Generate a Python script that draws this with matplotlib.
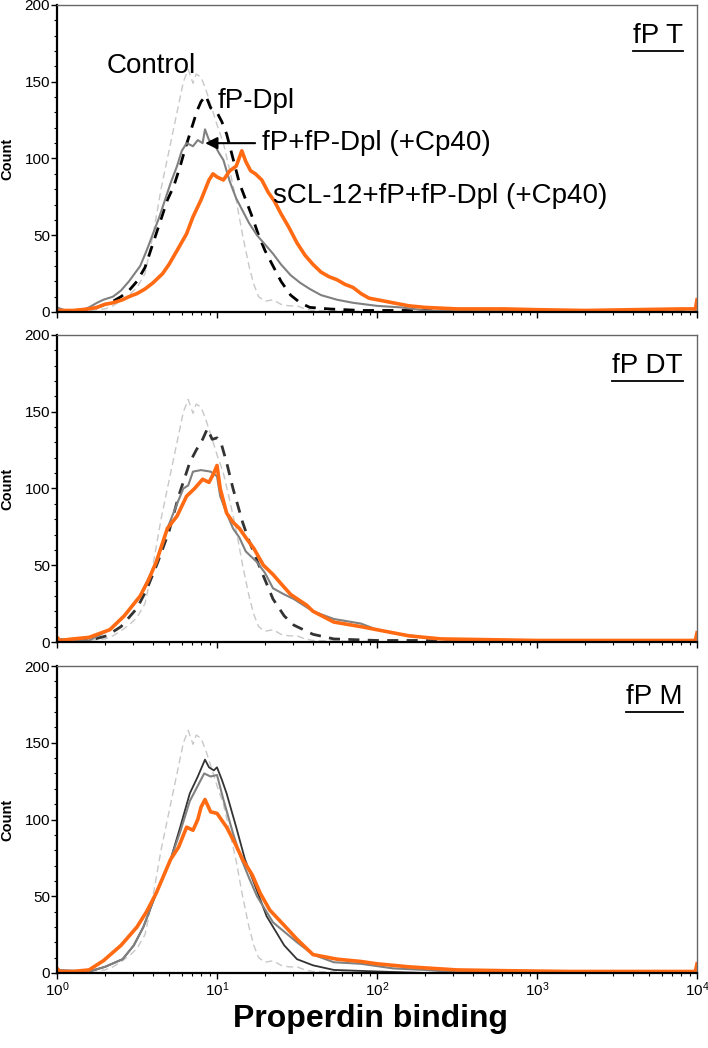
import matplotlib
matplotlib.use('Agg')
import matplotlib.pyplot as plt
import numpy as np
from matplotlib.ticker import FixedLocator, LogLocator, NullFormatter

plt.rcParams['font.family'] = ['Liberation Sans', 'DejaVu Sans']
plt.rcParams['mathtext.fontset'] = 'custom'
plt.rcParams['mathtext.rm'] = 'Liberation Sans'

# %% DATA (x given as log10 of binding, y as count)
ctrl_x = [0.0, 0.1, 0.2, 0.3, 0.35, 0.41, 0.46, 0.5, 0.55, 0.6, 0.65, 0.7, 0.75, 0.79, 0.82, 0.85, 0.87, 0.9,
          0.93, 0.97, 1.0, 1.04, 1.08, 1.12, 1.16, 1.2, 1.23, 1.26, 1.3, 1.35, 1.4, 1.45, 1.5, 1.55, 1.6, 1.8,
          2.2, 4.0]
ctrl_y = [2, 1, 1, 2, 4, 8, 12, 16, 25, 50, 80, 105, 130, 150, 158, 149, 155, 153,
          145, 132, 122, 110, 92, 73, 50, 30, 18, 10, 7, 8, 5, 4, 4, 2, 1, 0.5,
          0, 0]

# panel fP T
t_dpl_x = [0.0, 0.2, 0.25, 0.3, 0.35, 0.4, 0.45, 0.5, 0.55, 0.62, 0.69, 0.73, 0.77, 0.8, 0.83, 0.875, 0.9,
           0.93, 0.96, 1.0, 1.03, 1.06, 1.1, 1.14, 1.18, 1.22, 1.26, 1.3, 1.35, 1.4, 1.46, 1.52, 1.58, 1.7,
           1.9, 2.3, 2.5, 4.0]
t_dpl_y = [1, 1, 3, 5, 7, 10, 14, 20, 29, 51, 73, 82, 95, 106, 116, 131, 137,
           141, 133, 130, 124, 116, 100, 84, 73, 62, 50, 40, 30, 20, 11, 6, 3, 2,
           1, 1, 0, 0]
t_mix_x = [0.0, 0.05, 0.1, 0.15, 0.2, 0.25, 0.29, 0.35, 0.4, 0.45, 0.52, 0.56, 0.6, 0.64, 0.675, 0.71, 0.75,
           0.78, 0.81, 0.85, 0.88, 0.91, 0.925, 0.95, 0.98, 1.01, 1.04, 1.08, 1.12, 1.16, 1.2, 1.25, 1.3, 1.35,
           1.4, 1.46, 1.52, 1.58, 1.65, 1.75, 1.85, 2.0, 2.15, 2.3, 2.5, 4.0]
t_mix_y = [3, 1, 1, 1, 3, 6, 8, 10, 14, 20, 30, 40, 51, 62, 73, 84, 95,
           105, 110, 108, 112, 110, 119, 112, 110, 104, 99, 85, 74, 66, 58, 50, 44, 38,
           31, 24, 19, 15, 11, 8, 6, 4, 3, 1, 0.5, 0]
t_sc_x = [0.0, 0.1, 0.2, 0.25, 0.3, 0.35, 0.41, 0.45, 0.5, 0.55, 0.6, 0.66, 0.7, 0.75, 0.81, 0.85, 0.9, 0.95,
          0.975, 1.0, 1.04, 1.08, 1.12, 1.155, 1.18, 1.21, 1.24, 1.28, 1.32, 1.36, 1.4, 1.45, 1.5, 1.55, 1.6,
          1.65, 1.7, 1.75, 1.8, 1.85, 1.9, 1.95, 2.0, 2.1, 2.2, 2.3, 2.5, 2.8, 3.0, 3.3, 3.6, 3.9, 3.99, 4.0]
t_sc_y = [1, 1, 2, 3, 5, 6, 8, 10, 12, 15, 19, 25, 31, 40, 51, 62, 73, 86,
          90, 88, 86, 92, 95, 105, 98, 92, 90, 86, 78, 72, 64, 55, 45, 37, 31,
          26, 23, 21, 18, 16, 12, 9, 8, 6, 4, 3, 2, 2, 1.5, 1, 1.5, 2, 2, 8]

# panel fP DT
dt_dpl_x = [0.0, 0.2, 0.31, 0.4, 0.5, 0.56, 0.63, 0.7, 0.76, 0.83, 0.87, 0.91, 0.94, 0.97, 1.0, 1.03, 1.06,
            1.1, 1.16, 1.2, 1.27, 1.35, 1.42, 1.48, 1.6, 1.73, 2.0, 2.3, 2.5, 4.0]
dt_dpl_y = [1, 1, 4, 10, 22, 34, 52, 72, 95, 117, 125, 132, 139, 132, 133, 128, 117,
            100, 78, 66, 48, 28, 17, 11, 5, 2, 1, 1, 0, 0]
dt_mix_x = [0.0, 0.2, 0.33, 0.42, 0.52, 0.62, 0.69, 0.75, 0.79, 0.82, 0.85, 0.9, 0.96, 1.0, 1.02, 1.06, 1.1,
            1.14, 1.18, 1.25, 1.3, 1.35, 1.42, 1.48, 1.6, 1.73, 1.9, 2.0, 2.15, 2.3, 2.5, 4.0]
dt_mix_y = [2, 1, 8, 17, 30, 52, 74, 90, 100, 102, 111, 112, 111, 108, 95, 84, 74,
            68, 59, 52, 45, 35, 31, 28, 20, 15, 12, 8, 5, 3, 1, 0]
dt_sc_x = [0.0, 0.02, 0.1, 0.2, 0.33, 0.42, 0.52, 0.57, 0.62, 0.69, 0.75, 0.81, 0.86, 0.91, 0.95, 0.98, 1.0,
           1.02, 1.06, 1.1, 1.14, 1.18, 1.23, 1.29, 1.35, 1.4, 1.46, 1.56, 1.6, 1.73, 1.9, 2.0, 2.2, 2.4, 2.7,
           3.0, 3.5, 3.99, 4.0]
dt_sc_y = [3, 1, 2, 3, 8, 17, 30, 40, 52, 74, 82, 95, 100, 106, 104, 110, 115,
           100, 84, 78, 74, 68, 61, 50, 44, 38, 31, 24, 20, 13, 10, 8, 4, 2, 1.5,
           1, 1, 1, 6]

# panel fP M
m_dpl_x = [0.0, 0.2, 0.3, 0.41, 0.48, 0.54, 0.62, 0.71, 0.77, 0.83, 0.88, 0.925, 0.95, 0.98, 1.0, 1.03, 1.06,
           1.12, 1.175, 1.23, 1.31, 1.42, 1.5, 1.6, 1.73, 2.0, 2.3, 4.0]
m_dpl_y = [1, 1, 4, 9, 18, 30, 52, 74, 95, 117, 128, 139, 134, 132, 134, 126, 117,
           95, 74, 59, 37, 18, 9, 5, 2, 1, 0, 0]
m_mix_x = [0.0, 0.2, 0.3, 0.41, 0.48, 0.54, 0.62, 0.71, 0.77, 0.83, 0.88, 0.92, 0.96, 1.0, 1.04, 1.1, 1.15,
           1.2, 1.25, 1.35, 1.5, 1.6, 1.73, 1.9, 2.1, 2.3, 2.5, 4.0]
m_mix_y = [2, 1, 4, 9, 18, 30, 52, 74, 92, 112, 122, 130, 128, 129, 113, 91, 75,
           62, 50, 33, 20, 12, 7, 6, 3, 2, 0.5, 0]
m_sc_x = [0.0, 0.02, 0.1, 0.2, 0.29, 0.4, 0.5, 0.56, 0.62, 0.71, 0.76, 0.81, 0.85, 0.88, 0.9, 0.925, 0.96,
          1.0, 1.06, 1.11, 1.16, 1.22, 1.27, 1.33, 1.42, 1.5, 1.6, 1.75, 1.9, 2.0, 2.2, 2.5, 2.8, 3.2, 3.6,
          3.99, 4.0]
m_sc_y = [3, 1, 1, 2, 8, 18, 30, 40, 52, 74, 82, 95, 93, 100, 108, 113, 105,
          104, 95, 85, 74, 64, 52, 41, 31, 22, 12, 9, 7.5, 6, 4, 2, 1.5, 1, 1,
          1, 6]

panel_titles = ['fP T', 'fP DT', 'fP M']
label_ctrl = 'Control'
label_dpl = 'fP-Dpl'
label_mix = 'fP+fP-Dpl (+Cp40)'
label_sc = 'sCL-12+fP+fP-Dpl (+Cp40)'

# %% STYLES
orange = '#ff6a13'
panels = [
    (panel_titles[0], (t_dpl_x, t_dpl_y), (t_mix_x, t_mix_y), (t_sc_x, t_sc_y), dict(color='black', lw=2.0, ls=(0, (4, 3)))),
    (panel_titles[1], (dt_dpl_x, dt_dpl_y), (dt_mix_x, dt_mix_y), (dt_sc_x, dt_sc_y), dict(color='#333333', lw=2.0, ls=(0, (4, 3)))),
    (panel_titles[2], (m_dpl_x, m_dpl_y), (m_mix_x, m_mix_y), (m_sc_x, m_sc_y), dict(color='#333333', lw=1.3, ls='-')),
]

fig = plt.figure(figsize=(7.08, 10.48), dpi=100)
left, width = 57 / 708, 640 / 708
tops = [5, 335, 666]
h = 307

axes = []
for i, (title, dpl, mix, sc, dstyle) in enumerate(panels):
    ax = fig.add_axes([left, 1 - (tops[i] + h) / 1048, width, h / 1048])
    axes.append(ax)

    ax.plot(10 ** np.array(ctrl_x), ctrl_y, color='#c8c8c8', lw=1.0, ls=(0, (5, 3)))
    ax.plot(10 ** np.array(dpl[0]), dpl[1], **dstyle)
    ax.plot(10 ** np.array(mix[0]), mix[1], color='#808080', lw=1.5)
    ax.plot(10 ** np.array(sc[0]), sc[1], color=orange, lw=2.6)

    ax.set_xscale('log')
    ax.set_xlim(1, 1e4)
    ax.set_ylim(0, 200)
    ax.yaxis.set_major_locator(FixedLocator([0, 50, 100, 150, 200]))
    ax.yaxis.set_minor_locator(FixedLocator(np.arange(0, 201, 10)))
    ax.xaxis.set_major_locator(LogLocator(base=10, numticks=10))
    ax.xaxis.set_minor_locator(LogLocator(base=10, subs=np.arange(2, 10), numticks=20))
    ax.xaxis.set_minor_formatter(NullFormatter())
    ax.tick_params(axis='both', which='major', direction='out', length=4, width=1, labelsize=11, pad=1)
    ax.tick_params(axis='both', which='minor', direction='out', length=2.5, width=0.8)
    if i < 2:
        ax.tick_params(axis='x', labelbottom=False)

    for s in ['left', 'bottom']:
        ax.spines[s].set_linewidth(1.6)
        ax.spines[s].set_color('black')
    for s in ['top', 'right']:
        ax.spines[s].set_linewidth(1.0)
        ax.spines[s].set_color('#666666')

    ax.set_ylabel('Count', fontsize=10.5, fontweight='bold')
    ax.yaxis.set_label_coords(-0.067, 0.5)

    # underlined panel title
    t = ax.text(0.978, 0.876, title, transform=ax.transAxes, ha='right', va='baseline', fontsize=20)
    fig.canvas.draw()
    bb = t.get_window_extent().transformed(ax.transAxes.inverted())
    ax.plot([bb.x0, bb.x1], [bb.y0 - 0.006, bb.y0 - 0.006], transform=ax.transAxes, color='black', lw=1.3, clip_on=False)

# annotations on top panel
ax = axes[0]
ax.text(2.05, 156, label_ctrl, fontsize=20, ha='left', va='baseline')
ax.text(10.1, 133, label_dpl, fontsize=20, ha='left', va='baseline')
ax.annotate('', xy=(8.1, 110), xytext=(18.0, 110),
            arrowprops=dict(arrowstyle='-|>', color='black', lw=1.5, mutation_scale=18))
ax.text(19.1, 110, label_mix, fontsize=20, ha='left', va='center')
ax.text(22.4, 71, label_sc, fontsize=20, ha='left', va='baseline')

axes[2].set_xlabel('Properdin binding', fontsize=23, fontweight='bold')
axes[2].xaxis.set_label_coords(0.49, -0.1)

fig.savefig('out.png', dpi=100)
